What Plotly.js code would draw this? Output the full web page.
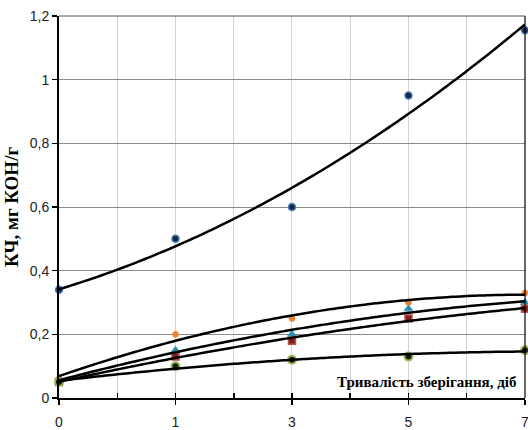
<!DOCTYPE html>
<html>
<head>
<meta charset="utf-8">
<script src="https://cdn.plot.ly/plotly-3.0.1.min.js"></script>
<style>html,body{margin:0;padding:0;background:#fff;}#chart{width:528px;height:430px;}</style>
</head>
<body>
<div id="chart"></div>
<script>
// Storage duration (days) — shown as equally spaced categories
const days = ['0', '1', '3', '5', '7'];
const dayIndex = [0, 1, 2, 3, 4];

// Acid number, mg KOH/g
const seriesBlue   = [0.34, 0.50, 0.60, 0.95, 1.155];
const seriesOrange = [0.06, 0.20, 0.25, 0.30, 0.33];
const seriesCyan   = [0.055, 0.15, 0.20, 0.28, 0.30];
const seriesRed    = [0.05, 0.13, 0.18, 0.25, 0.28];
const seriesGreen  = [0.05, 0.10, 0.12, 0.13, 0.15];

const yTicks = [0, 0.2, 0.4, 0.6, 0.8, 1, 1.2];
const yTickText = ['0', '0,2', '0,4', '0,6', '0,8', '1', '1,2'];

// Quadratic least-squares trendline (like Excel poly order 2)
function polyFit2(xs, ys) {
  let n = xs.length, s = [0,0,0,0,0], t = [0,0,0];
  for (let i = 0; i < n; i++) {
    let x = xs[i], y = ys[i];
    for (let k = 0; k < 5; k++) s[k] += Math.pow(x, k);
    for (let k = 0; k < 3; k++) t[k] += Math.pow(x, k) * y;
  }
  const A = [[s[0], s[1], s[2], t[0]], [s[1], s[2], s[3], t[1]], [s[2], s[3], s[4], t[2]]];
  for (let i = 0; i < 3; i++) {
    let p = A[i][i];
    for (let j = i; j < 4; j++) A[i][j] /= p;
    for (let r = 0; r < 3; r++) if (r !== i) {
      let f = A[r][i];
      for (let j = i; j < 4; j++) A[r][j] -= f * A[i][j];
    }
  }
  return [A[0][3], A[1][3], A[2][3]];
}
function trend(ys) {
  const c = polyFit2(dayIndex, ys);
  const xs = [], yv = [];
  for (let i = 0; i <= 80; i++) {
    const x = 4 * i / 80;
    xs.push(x); yv.push(c[0] + c[1] * x + c[2] * x * x);
  }
  return {x: xs, y: yv};
}

const markerDefs = [
  {y: seriesBlue,   marker: {symbol: 'circle', size: 7, color: '#17264a', line: {color: '#4a7ebb', width: 1.5}}},
  {y: seriesOrange, marker: {symbol: 'circle', size: 6, color: '#e0843a', line: {color: '#f79646', width: 1}}},
  {y: seriesCyan,   marker: {symbol: 'triangle-up', size: 8, color: '#2f8aa5', line: {color: '#4bacc6', width: 1}}},
  {y: seriesRed,    marker: {symbol: 'square', size: 7, color: '#7a2020', line: {color: '#c0504d', width: 1.5}}},
  {y: seriesGreen,  marker: {symbol: 'circle', size: 8, color: '#1a1a0a', line: {color: '#9bbb59', width: 2}}}
];

const traces = [];
markerDefs.forEach(d => {
  traces.push({x: dayIndex, y: d.y, type: 'scatter', mode: 'markers', marker: d.marker, hoverinfo: 'skip', cliponaxis: false});
});
markerDefs.forEach(d => {
  const t = trend(d.y);
  traces.push({x: t.x, y: t.y, type: 'scatter', mode: 'lines', line: {color: '#000', width: 2.5, shape: 'spline'}, hoverinfo: 'skip'});
});
// invisible trace for overlay x axis (inside major ticks)
traces.push({x: [0, 4], y: [0, 0], xaxis: 'x2', type: 'scatter', mode: 'markers', marker: {opacity: 0}, hoverinfo: 'skip'});

const tickFont = {family: 'Liberation Sans, Arial, sans-serif', size: 14, color: '#222'};

const layout = {
  width: 528, height: 430,
  margin: {l: 59, r: 3, t: 16, b: 32},
  paper_bgcolor: '#fff', plot_bgcolor: '#fff',
  showlegend: false,
  xaxis: {
    range: [0, 4.0001], tickmode: 'array', tickvals: dayIndex, ticktext: days,
    showgrid: true, gridcolor: '#d4d4d4', gridwidth: 1,
    zeroline: false, showline: true, linecolor: '#000', linewidth: 2,
    ticks: 'outside', ticklen: 5, tickwidth: 1.5, tickcolor: '#000',
    tickfont: tickFont, fixedrange: true, ticklabeloverflow: 'allow', ticklabelstandoff: 5,
    minor: {tickmode: 'array', tickvals: [0.5, 1.5, 2.5, 3.5], ticks: 'inside', ticklen: 5, tickwidth: 1.5, tickcolor: '#000', showgrid: true, gridcolor: '#d4d4d4', gridwidth: 1}
  },
  xaxis2: {
    overlaying: 'x', range: [0, 4.0001], tickmode: 'array', tickvals: dayIndex, ticktext: ['', '', '', '', ''],
    ticks: 'inside', ticklen: 5, tickwidth: 1.5, tickcolor: '#000', showgrid: false, zeroline: false, showline: false, side: 'bottom', anchor: 'y', fixedrange: true
  },
  yaxis: {
    range: [0, 1.2], tickmode: 'array', tickvals: yTicks, ticktext: yTickText,
    showgrid: true, gridcolor: '#8c8c8c', gridwidth: 1,
    zeroline: false, showline: true, linecolor: '#000', linewidth: 2,
    ticks: 'outside', ticklen: 5, tickwidth: 1.5, tickcolor: '#000',
    tickfont: tickFont, fixedrange: true,
    title: {text: 'КЧ, мг КОН/г', font: {family: 'Liberation Serif, Times New Roman, serif', size: 19, color: '#000', weight: 'bold'}, standoff: 6}
  },
  shapes: [
    {type: 'line', xref: 'paper', yref: 'paper', x0: 1, x1: 1, y0: 0, y1: 1, line: {color: '#000', width: 1.2}},
    {type: 'line', xref: 'paper', yref: 'paper', x0: 0, x1: 1, y0: 1, y1: 1, line: {color: '#555', width: 1}}
  ],
  annotations: [
    {text: '<b>Тривалість зберігання, діб</b>', xref: 'paper', yref: 'paper', x: 0.985, y: 0.042, xanchor: 'right', yanchor: 'middle', showarrow: false,
     font: {family: 'Liberation Serif, Times New Roman, serif', size: 15, color: '#000'}}
  ]
};

Plotly.newPlot('chart', traces, layout, {displayModeBar: false, staticPlot: true});
</script>
</body>
</html>
